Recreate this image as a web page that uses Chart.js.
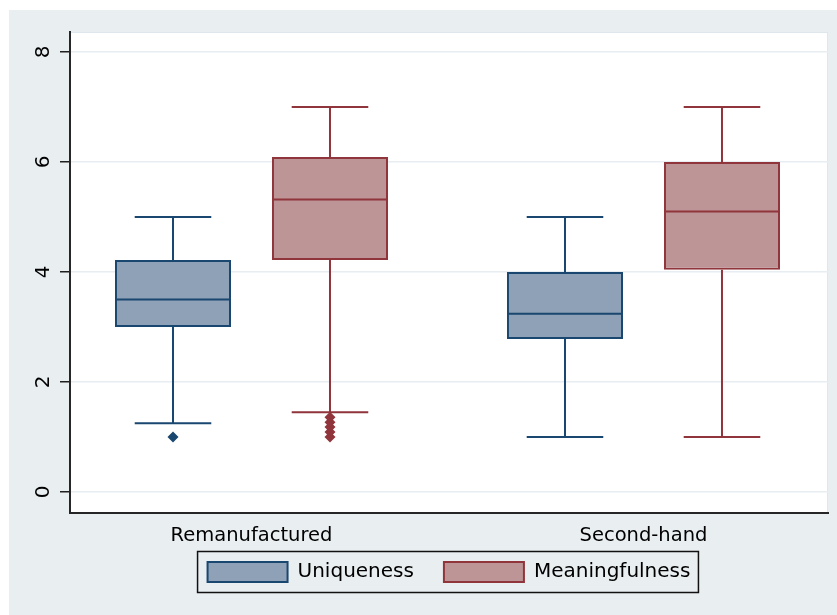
<!DOCTYPE html>
<html>
<head>
<meta charset="utf-8">
<title>Uniqueness and Meaningfulness</title>
<script src="https://cdn.jsdelivr.net/npm/chart.js@4.4.1/dist/chart.umd.min.js"></script>
<style>
  html, body { margin: 0; padding: 0; background: #ffffff; }
  canvas { display: block; }
</style>
</head>
<body>
<canvas id="chart" width="837" height="615"></canvas>
<script>
// Product types along the x axis
const categories = ['Remanufactured', 'Second-hand'];
// Series names
const seriesNames = ['Uniqueness', 'Meaningfulness'];
// Box summaries per product type: [lower whisker, Q1, median, Q3, upper whisker]
const uniquenessStats = [
  [1.25, 3.0, 3.5, 4.22, 5.0],
  [1.0, 2.78, 3.24, 4.0, 5.0]
];
const meaningfulnessStats = [
  [1.45, 4.22, 5.32, 6.09, 7.0],
  [1.0, 4.04, 5.1, 6.0, 7.0]
];
// Values beyond the whiskers
const uniquenessOutliers = [[1.0], []];
const meaningfulnessOutliers = [[1.0, 1.09, 1.18, 1.27, 1.36], []];
// Y axis tick values
const yTicks = [0, 2, 4, 6, 8];

const seriesStats = [uniquenessStats, meaningfulnessStats];
const seriesOutliers = [uniquenessOutliers, meaningfulnessOutliers];
const lineColors = ['#1a476f', '#90353b'];
const fillColors = ['#8ea1b6', '#bd9596'];

// Page and plot backgrounds
const backgroundPlugin = {
  id: 'backgrounds',
  beforeDraw(chart) {
    const ctx = chart.ctx;
    const a = chart.chartArea;
    ctx.save();
    ctx.fillStyle = '#ffffff';
    ctx.fillRect(0, 0, chart.width, chart.height);
    ctx.fillStyle = '#e9eef1';
    ctx.fillRect(9, 10, chart.width - 9, chart.height - 10);
    ctx.fillStyle = '#ffffff';
    ctx.fillRect(a.left, a.top, a.right - a.left, a.bottom - a.top);
    ctx.strokeStyle = '#dfe7ee';
    ctx.lineWidth = 1;
    ctx.strokeRect(a.left + 0.5, a.top + 0.5, a.right - a.left - 1, a.bottom - a.top - 1);
    ctx.restore();
  }
};

// Pull the legend up so it sits just under the category labels
const legendOffsetPlugin = {
  id: 'legendOffset',
  afterLayout(chart) {
    const lg = chart.legend;
    if (!lg) return;
    lg.top -= 21;
    lg.bottom -= 21;
  }
};

// Whiskers, medians and outliers on top of the floating bars (boxes)
const boxPlotPlugin = {
  id: 'boxParts',
  afterDatasetsDraw(chart) {
    const ctx = chart.ctx;
    const yScale = chart.scales.y;
    chart.data.datasets.forEach((ds, d) => {
      const meta = chart.getDatasetMeta(d);
      meta.data.forEach((bar, i) => {
        const [lo, q1, med, q3, hi] = seriesStats[d][i];
        const half = bar.width / 2;
        const cap = bar.width * 0.33;
        const yLo = yScale.getPixelForValue(lo);
        const yQ1 = yScale.getPixelForValue(q1);
        const yMed = yScale.getPixelForValue(med);
        const yQ3 = yScale.getPixelForValue(q3);
        const yHi = yScale.getPixelForValue(hi);
        ctx.save();
        ctx.strokeStyle = ds.borderColor;
        ctx.lineWidth = 2;
        ctx.beginPath();
        ctx.moveTo(bar.x, yQ3); ctx.lineTo(bar.x, yHi);
        ctx.moveTo(bar.x - cap, yHi); ctx.lineTo(bar.x + cap, yHi);
        ctx.moveTo(bar.x, yQ1); ctx.lineTo(bar.x, yLo);
        ctx.moveTo(bar.x - cap, yLo); ctx.lineTo(bar.x + cap, yLo);
        ctx.moveTo(bar.x - half + 1, yMed); ctx.lineTo(bar.x + half - 1, yMed);
        ctx.stroke();
        ctx.fillStyle = ds.borderColor;
        seriesOutliers[d][i].forEach(v => {
          const py = yScale.getPixelForValue(v);
          const r = 5.5;
          ctx.beginPath();
          ctx.moveTo(bar.x, py - r);
          ctx.lineTo(bar.x + r, py);
          ctx.lineTo(bar.x, py + r);
          ctx.lineTo(bar.x - r, py);
          ctx.closePath();
          ctx.fill();
        });
        ctx.restore();
      });
    });
  }
};

// Frame around the legend entries
const legendFramePlugin = {
  id: 'legendFrame',
  afterDraw(chart) {
    const boxes = chart.legend && chart.legend.legendHitBoxes;
    if (!boxes || !boxes.length) return;
    const first = boxes[0];
    const last = boxes[boxes.length - 1];
    const cy = first.top + first.height / 2;
    const left = first.left - 10;
    const right = last.left + last.width + 8;
    const ctx = chart.ctx;
    ctx.save();
    ctx.strokeStyle = '#111111';
    ctx.lineWidth = 1.5;
    ctx.strokeRect(left, cy - 20.5, right - left, 41);
    ctx.restore();
  }
};

const datasets = seriesNames.map((name, d) => ({
  label: name,
  data: categories.map((c, i) => ({ x: i, y: [seriesStats[d][i][1], seriesStats[d][i][3]] })),
  backgroundColor: fillColors[d],
  borderColor: lineColors[d],
  borderWidth: 2,
  borderSkipped: false,
  categoryPercentage: 0.801,
  barPercentage: 0.739
}));

new Chart(document.getElementById('chart').getContext('2d'), {
  type: 'bar',
  data: { datasets },
  options: {
    responsive: false,
    animation: false,
    devicePixelRatio: 1,
    layout: { padding: { left: 0, top: 32, right: 9, bottom: 2 } },
    scales: {
      x: {
        type: 'linear',
        min: -0.463,
        max: 1.4707,
        offset: false,
        afterBuildTicks: s => { s.ticks = categories.map((c, i) => ({ value: i })); },
        afterFit: s => { s.height = 40; },
        grid: { display: false, drawTicks: false },
        border: { display: true, color: '#262626', width: 2 },
        ticks: {
          callback: v => categories[v],
          autoSkip: false,
          maxRotation: 0,
          padding: 11,
          color: '#000000',
          font: { family: 'DejaVu Sans', size: 19.5 }
        }
      },
      y: {
        min: -0.3818,
        max: 8.3636,
        afterBuildTicks: s => { s.ticks = yTicks.map(v => ({ value: v })); },
        afterFit: s => { s.width = 70; },
        grid: {
          color: '#e8edf2',
          lineWidth: 1.5,
          drawTicks: true,
          tickLength: 10,
          tickColor: '#1e1e1e',
          tickWidth: 1.5
        },
        border: { display: true, color: '#262626', width: 2 },
        ticks: {
          minRotation: 90,
          maxRotation: 90,
          crossAlign: 'center',
          padding: 10,
          autoSkip: false,
          color: '#000000',
          font: { family: 'DejaVu Sans', size: 20 }
        }
      }
    },
    plugins: {
      legend: {
        position: 'bottom',
        fullSize: false,
        labels: {
          boxWidth: 80,
          boxHeight: 20,
          padding: 30,
          color: '#000000',
          font: { family: 'DejaVu Sans', size: 20 }
        }
      },
      tooltip: { enabled: false }
    }
  },
  plugins: [backgroundPlugin, legendOffsetPlugin, boxPlotPlugin, legendFramePlugin]
});
</script>
</body>
</html>
